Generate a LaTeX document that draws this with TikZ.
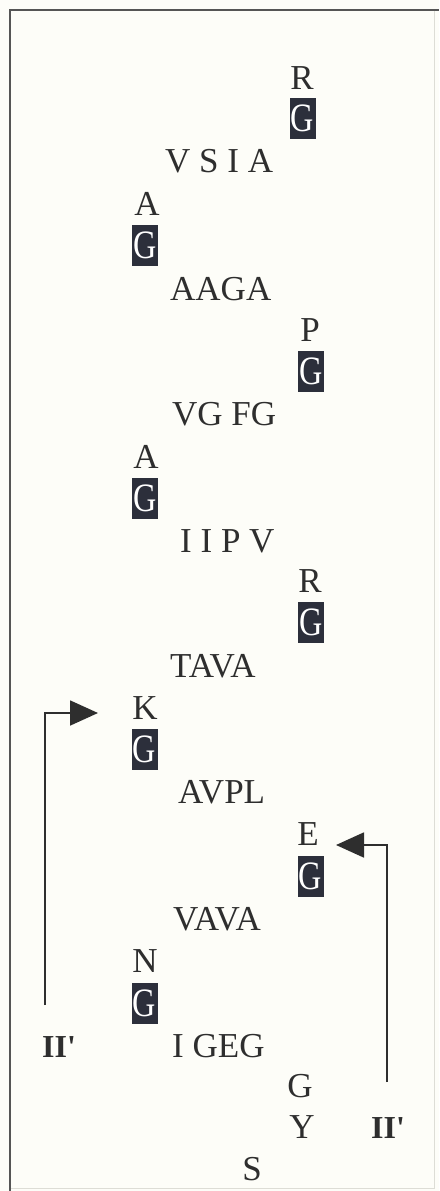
\documentclass[tikz,border=0pt]{standalone}
\usepackage{fontspec}
\setmainfont{Liberation Serif}
\usetikzlibrary{arrows.meta}
\definecolor{paper}{HTML}{FDFDF8}
\definecolor{ink}{HTML}{2E2E2E}
\definecolor{boxfill}{HTML}{2C2F3B}
\definecolor{frameline}{HTML}{555555}
\definecolor{faintline}{HTML}{DDDDD6}
\tikzset{
  res/.style={inner sep=0pt, text=ink, font=\fontsize{35}{40}\selectfont},
  gly/.style={fill=boxfill, text=white, inner sep=0pt, minimum width=26pt,
              minimum height=41pt, font=\fontsize{35}{40}\selectfont},
  turn/.style={inner sep=0pt, text=ink, font=\bfseries\fontsize{32}{36}\selectfont},
  arr/.style={draw=ink, line width=1.8pt,
              -{Triangle[length=28pt,width=25pt]}}
}
\newcommand{\Gbox}{\scalebox{0.92}[1.15]{G}}
\newcommand{\turnII}{II\textquotesingle}
\begin{document}
\begin{tikzpicture}[x=1pt,y=-1pt]
  % page and frame
  \fill[paper] (0,0) rectangle (439,1191);
  \useasboundingbox (0,0) rectangle (439,1191);
  \draw[faintline, line width=1pt] (434,10) -- (434,1188) -- (10,1188);
  \draw[frameline, line width=2pt] (10,1191) -- (10,10) -- (439,10);

  % sequence, turn by turn
  \node[res, anchor=base] (r1) at (302,89) {R};
  \node[gly] (g1) at (302.5,118) {\Gbox};
  \node[res, anchor=base west] (s1) at (165,172) {V S I A};
  \node[res, anchor=base] (a1) at (147,215) {A};
  \node[gly] (g2) at (145,245) {\Gbox};
  \node[res, anchor=base west] (s2) at (170,300) {AAGA};
  \node[res, anchor=base] (p1) at (310,341) {P};
  \node[gly] (g3) at (311,371.5) {\Gbox};
  \node[res, anchor=base west] (s3) at (172,425) {VG FG};
  \node[res, anchor=base] (a2) at (146,468) {A};
  \node[gly] (g4) at (145,498) {\Gbox};
  \node[res, anchor=base west] (s4) at (180,552) {I I P V};
  \node[res, anchor=base] (r2) at (310,592) {R};
  \node[gly] (g5) at (311,622.5) {\Gbox};
  \node[res, anchor=base west] (s5) at (170,677) {TAVA};
  \node[res, anchor=base] (k1) at (145,719) {K};
  \node[gly] (g6) at (144.5,749) {\Gbox};
  \node[res, anchor=base west] (s6) at (178,803) {AVPL};
  \node[res, anchor=base] (e1) at (308,845) {E};
  \node[gly] (g7) at (310.5,876) {\Gbox};
  \node[res, anchor=base west] (s7) at (173,930) {VAVA};
  \node[res, anchor=base] (n1) at (145,972) {N};
  \node[gly] (g8) at (144.5,1003) {\Gbox};
  \node[res, anchor=base west] (s8) at (172,1057) {I GEG};
  \node[res, anchor=base] (gg) at (300,1097) {G};
  \node[res, anchor=base] (y1) at (302,1138) {Y};
  \node[res, anchor=base] (s9) at (252,1180) {S};

  % turn labels
  \node[turn, anchor=base west] (tl) at (42,1057) {\turnII};
  \node[turn, anchor=base west] (tr) at (371,1138) {\turnII};

  % turn arrows
  \coordinate (lfoot) at (45,1005);
  \coordinate (ltip) at (98,713);
  \coordinate (rfoot) at (387,1082);
  \coordinate (rtip) at (336,845);
  \draw[arr] (lfoot) |- (ltip);
  \draw[arr] (rfoot) |- (rtip);
\end{tikzpicture}
\end{document}
